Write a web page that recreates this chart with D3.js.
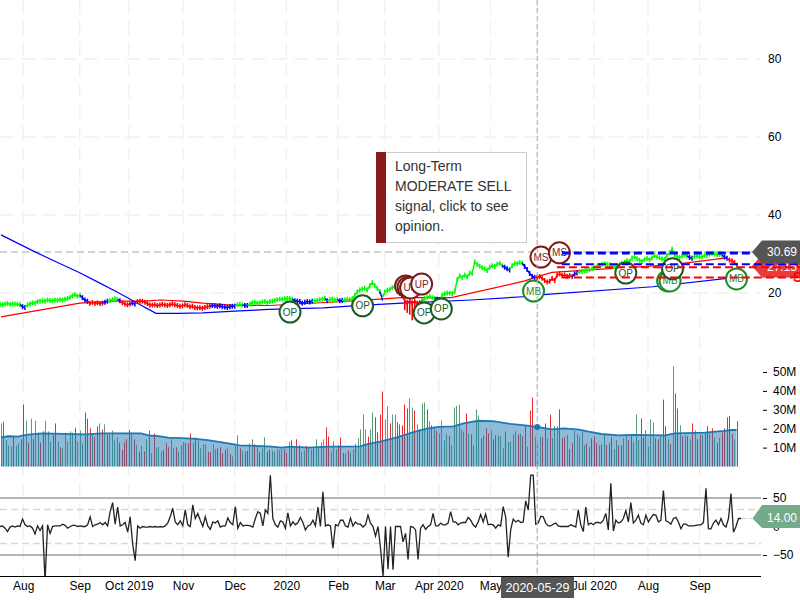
<!DOCTYPE html>
<html>
<head>
<meta charset="utf-8">
<script src="https://cdnjs.cloudflare.com/ajax/libs/d3/7.8.5/d3.min.js"></script>
<style>
	html, body { margin: 0; padding: 0; background: #fff; overflow: hidden; }
	text { font-family: Arial, "Liberation Sans", sans-serif; }
</style>
</head>
<body>
<div id="chart"></div>
<script>
//Month ticks, as bar numbers
var tickBars = [9, 32, 52, 74, 95, 116, 137, 156, 178, 199, 218, 241, 263, 284];
var tickLabels = ["Aug", "Sep", "Oct 2019", "Nov", "Dec", "2020", "Feb", "Mar", "Apr 2020", "May", "Jun", "Jul 2020", "Aug", "Sep"];

//Daily closes
var prices = [
	17.1, 17.0, 17.2, 17.3, 17.1, 17.2, 17.2, 17.1, 17.0, 16.5,
	16.3, 17.0, 17.2, 17.5, 17.4, 17.8, 17.9, 18.0, 17.9, 18.2,
	18.1, 18.0, 18.2, 18.1, 18.3, 18.2, 18.4, 18.6, 18.9, 19.3,
	19.6, 19.2, 19.4, 18.8, 18.2, 17.9, 17.4, 17.6, 17.3, 17.5,
	17.3, 17.4, 17.6, 17.9, 18.0, 18.3, 18.5, 18.3, 18.0, 17.5,
	17.2, 17.0, 17.2, 17.4, 17.2, 17.8, 17.9, 17.9, 17.6, 17.3,
	16.9, 16.9, 17.0, 16.8, 16.9, 17.1, 16.9, 16.8, 17.0, 17.2,
	17.0, 16.8, 16.6, 16.7, 17.0, 16.8, 16.5, 16.6, 16.3, 16.2,
	16.2, 16.1, 16.3, 16.5, 16.6, 16.8, 16.7, 16.6, 16.7, 16.5,
	16.4, 16.3, 16.5, 16.6, 16.6, 17.0, 17.1, 16.9, 16.8, 16.8,
	17.2, 17.5, 17.6, 17.4, 17.5, 17.7, 17.8, 17.5, 17.8, 17.9,
	18.1, 18.3, 18.4, 18.4, 18.5, 18.6, 18.6, 18.4, 18.0, 17.9,
	17.8, 17.4, 17.6, 17.8, 17.7, 17.9, 18.0, 18.1, 18.3, 18.4,
	18.6, 18.0, 18.3, 18.4, 18.2, 18.3, 18.0, 18.1, 18.2, 18.4,
	18.3, 18.5, 19.4, 20.3, 20.8, 21.0, 21.2, 20.8, 21.9, 22.6,
	21.9, 21.2, 20.4, 18.7, 20.2, 20.7, 20.9, 21.4, 21.7, 20.5,
	20.0, 19.3, 18.0, 17.6, 17.9, 17.5, 17.9, 17.4, 17.5, 17.9,
	18.6, 18.9, 19.1, 18.8, 18.6, 18.4, 18.3, 19.4, 19.8, 20.0,
	20.0, 19.9, 20.3, 23.4, 24.4, 24.0, 24.6, 24.1, 25.1, 25.0,
	28.0, 27.3, 26.9, 26.5, 26.2, 25.8, 26.6, 27.0, 26.8, 27.4,
	27.6, 27.0, 26.6, 26.2, 25.9, 27.0, 27.6, 27.5, 27.8, 27.7,
	26.8, 26.0, 25.0, 24.3, 24.0, 24.0, 24.2, 23.8, 23.2, 22.8,
	23.0, 23.7, 23.2, 24.6, 24.9, 24.5, 24.6, 24.3, 24.5, 24.2,
	24.9, 25.1, 25.5, 25.5, 25.7, 25.8, 26.0, 26.2, 26.5, 26.9,
	27.1, 27.3, 27.5, 27.4, 27.3, 27.0, 26.8, 27.0, 27.4, 27.6,
	27.9, 28.3, 28.1, 29.0, 29.3, 28.8, 28.4, 28.1, 28.6, 28.9,
	28.5, 29.0, 29.6, 29.2, 29.0, 28.7, 28.6, 29.6, 30.3, 31.2,
	29.8, 29.3, 29.1, 29.4, 29.8, 29.5, 29.1, 28.9, 29.4, 29.5,
	29.3, 29.2, 29.7, 29.6, 29.9, 30.2, 30.0, 29.8, 29.9, 29.7,
	29.2, 28.9, 28.4, 28.3, 27.8, 27.1
];
//Long lower wicks of the March sell-off
var wickDays = [162, 163, 164, 165, 166, 167, 168];
var wickLows = [15.6, 14.9, 14.4, 13.0, 15.0, 15.8, 16.4];

//Signal state of the price line: state, number of days
var signalStates = ["up","hold","up","hold","down","hold","up","hold","down","hold","down","hold","up","hold","up","hold","up","hold","up","hold","up","hold","up","hold","down","up","hold","up","hold","up","hold","down","hold","up","hold","up","hold","down"];
var signalDays = [9,2,22,3,6,2,4,1,4,2,30,10,3,2,18,8,5,1,4,2,15,1,5,3,8,5,2,25,3,5,5,15,2,44,2,12,2,4];

//Moving averages, read at a few bar numbers
var longMaBars = [0, 13, 23, 32, 40, 47, 54, 63, 72, 82, 97, 109, 131, 143, 163, 191, 214, 219, 265, 296];
var longMaValues = [34.9, 30.8, 27.8, 25.2, 22.6, 20.3, 17.9, 14.8, 14.8, 14.9, 15.4, 15.8, 16.2, 16.7, 17.4, 18.2, 19.1, 19.5, 21.6, 23.8];
var shortMaBars = [0, 32, 46, 58, 65, 74, 82, 94, 109, 130, 143, 163, 183, 213, 218, 224, 249, 272, 295];
var shortMaValues = [13.9, 17.4, 17.9, 17.9, 18.2, 17.9, 17.4, 16.9, 16.8, 17.5, 18.0, 18.8, 18.8, 23.1, 24.2, 25.3, 26.3, 27.2, 29.0];

//Signal bubbles
var signalLabels = ["OP", "OP", "UP", "UP", "UP", "UP", "OP", "OP", "MB", "MS", "MS", "OP", "MB", "MB", "OP", "MB"];
var signalBars = [117.5, 147, 164.5, 165.5, 166.5, 171, 172, 179, 216.5, 219.5, 227, 254, 271, 272, 273, 299];
var signalPrices = [15.1, 16.7, 21.8, 21.5, 21.3, 22.3, 14.9, 15.9, 20.5, 29.2, 30.3, 25.1, 23.1, 23.1, 26.2, 23.6];

//Support and resistance levels
var levelValues = [30.25, 27.4, 26.6, 24.0];
var levelStarts = [228, 228, 226, 228];
var levelColors = ["#0000ff", "#0000ff", "#ff0000", "#ff0000"];

//Volume in millions, colour of each bar (g or r)
var volumes = [
	22.8, 23.7, 14, 11, 10.5, 15.4, 11, 12.3, 14.4, 32.8,
	24.2, 12.6, 25.3, 14.4, 24.2, 18, 12.6, 18.6, 24.2, 18.6,
	13.2, 16.7, 22.8, 13.2, 10.2, 9.6, 17.9, 13.2, 18.6, 17.9,
	20.5, 13.2, 19, 12.3, 28.6, 25.3, 20.2, 17.5, 15.8, 21.2,
	22.8, 19.6, 22.3, 17, 16.8, 19, 13.9, 15.4, 12.6, 8.8,
	12.8, 14.4, 19.3, 18, 14.4, 11.4, 7.9, 10.9, 7.9, 14.4,
	19, 7, 17.5, 10.2, 10.2, 7.9, 8.6, 12.3, 10.2, 14.4,
	9.6, 10.2, 7.9, 11.2, 12.8, 12.5, 12.3, 17.5, 12.6, 15.4,
	13.7, 9.6, 11.8, 11.8, 7.9, 7.5, 11.8, 9.1, 9.6, 10.2,
	7, 8.8, 9.6, 6.5, 5.3, 10.9, 16.5, 9.6, 8.4, 7.9,
	8.4, 12.3, 14.4, 11.8, 10.9, 7.5, 9.6, 15.4, 7.9, 8.8,
	8.4, 7.9, 9.1, 8.8, 9.1, 9.1, 7, 13.2, 13.9, 9.6,
	14.4, 11.2, 7.9, 8.4, 10.9, 9.6, 9.1, 9.6, 14.4, 10.2,
	12.8, 14.4, 20.7, 15.8, 7.9, 13.3, 9.1, 11.2, 15.4, 7,
	7, 8.4, 7.4, 9, 11.8, 14.9, 19.6, 27.5, 19.6, 15.8,
	19.6, 28.6, 26, 18.1, 27.5, 39.6, 24.9, 31.8, 22.8, 27.5,
	27.5, 23.3, 22.3, 21.8, 32.8, 30.7, 36.1, 31.2, 29.6, 22.3,
	19.6, 33.3, 33.9, 30.2, 23.9, 21.8, 21, 18.9, 17.5, 24.4,
	13.9, 17.2, 16, 11.4, 31.2, 32.1, 32.8, 19.6, 18.4, 28.1,
	17.5, 17, 11.4, 30.2, 27, 14.9, 16.5, 20.2, 17.5, 19.1,
	14.4, 16.5, 16.5, 16, 9.6, 18.6, 12.8, 13.3, 17, 18.6,
	17, 17.5, 16, 21.8, 10.5, 29.6, 36.5,
	15.8, 14, 15.8, 15.4, 22.8, 14.9, 27.5, 14.9, 21.4, 21.4,
	30.2, 14.9, 15.4, 16.7, 9.1, 12.3, 18.8, 17.2, 15.8, 18.4,
	11.2, 12.3, 10.2, 14.9, 16.1, 12.3, 11.2, 11.6, 16.7, 11.2,
	12.3, 15.4, 9.1, 14, 11.2, 11.4, 14.9, 17, 14, 17.2,
	13, 27.5, 14, 25.4, 15.3, 19.3, 10.5, 24.9, 23.3, 14.9,
	14.4, 16.1, 35.4, 21.4, 14.4, 11.8, 53, 38.6, 30.7, 21.8,
	15.8, 16.7, 16, 14.4, 22.8, 19.1, 14.4, 16.7, 16.7, 17.5,
	21.4, 17.5, 20.2, 15.4, 12.3, 15.3, 17.9, 20.2, 26, 26.7,
	17.2, 14.4, 24
];
var volumeColors = [
	"grgggrggrr", "grgrggrrgg", "grrgrggggg", "rgggrrrgrr", "grgrggggrr",
	"rrrgrgrgrg", "rgrgggrrrg", "grgggrrrgr", "ggggrrggrr", "rrgrgggrgr",
	"rggrgrggrr", "gggggrrgrg", "rrggrggrgg", "ggrrgggrrr", "grggrggggr",
	"ggrrrrggrg", "grrrrrggrg", "rggrgrgrgg", "ggrggggggr", "grgggrgrrg",
	"rrgggrgggg", "rgrrgrr",
	"gggrrgrggg", "rrrgrrgggg", "grgrrrgrgr", "rrggrrggrr", "gggrrggggr",
	"rgrrgrgrrg", "rgrgrgrrgr", "rgrgrgrrrr", "rgr"
].join("");
//Average volume, read at a few bar numbers
var volumeMaBars = [0, 3, 7, 9, 12, 17, 34, 41, 57, 60, 64, 68, 78, 84, 88, 93, 97, 108, 110, 114, 118, 125, 133, 146, 149, 154, 161, 167, 173, 178, 184, 188, 194, 200, 207, 214, 218, 224, 229, 235, 239, 244, 251, 257, 270, 274, 286, 294, 297, 299];
var volumeMaValues = [15.4, 16, 15.8, 16.5, 17, 17.5, 17, 17.5, 17.5, 16.5, 16.1, 15.3, 14.7, 14, 13.2, 12.1, 11.2, 10.7, 10.5, 10, 10.5, 10, 10.5, 10.6, 11.8, 13.2, 15.4, 17.9, 20, 21, 21.2, 22.8, 24.2, 24, 22.5, 21.6, 20.9, 19.6, 20.2, 19.5, 18.4, 17.2, 16.5, 16.7, 16.5, 17.5, 17.9, 18.8, 19.3, 19.3];

//Oscillator in the lower panel
var oscillator = [
	0, 1, -3, -9, -1, 1, -1, 1, 0, 13, 3, 0, 1, -3, -13, 1, -7, 1, -95, 3, -12, 0, 1, 1, 1, 4, 2, -3, 0, 2,
	2, 0, 1, 0, 0, 3, 17, 0, 3, 4, 7, 3, 7, 1, 26, 42, 4, 34, 1, 3, 7, -10, 17, -31, -60, 1, -3, 0, -1, -1,
	0, -1, 0, -1, 0, -1, 1, 6, 17, 32, 8, 3, 10, 1, 29, 3, 0, 38, 14, 23, 11, 0, 17, 1, -5, 8, 6, 10, -1, 1,
	1, 15, 7, 3, 35, -3, 7, 1, 2, 2, 1, -1, 14, 26, 23, 1, 29, 23,
	90, 14, 3, -1, 10, 8, -3, 24, 1, 8, 3, 7, 16, 7, -6, 1, 3, 11, 1, 34, 0, 61, 1, 3, 1, -38, 3, 1, 11, 11,
	1, -1, 15, 1, 8, 4, 4, -1, 3, 20, 6, 0, -17, 0, -38, -87, 0, -75, 0, -76, 0, 0, 0, -27, -12, -58, 0, -1, -6, -58,
	-3, 3, -5, 0, 3, 23, 1, 1, 6, 3, 3, 6, 26, 8, 8, 3, 6, 7, 7, 16, 11, 3, -1, 8, 21, 8, 22, 3, 4, 3,
	-3, 3, 1, 35, 17, -54, -6, 13, 8, 11, 7, 8, 45, 29, 90, 90, 4,
	6, 18, 17, 6, 1, 1, 4, 6, 1, 0, 0, 0, 0, 3, 1, -1, 29, 3, -9, 34, 3, 6, 3, 7, 7, 6, 11, 23, -6, 76,
	-8, 11, 6, 8, 14, 28, 8, 42, 6, 11, 20, 6, 3, 20, 8, 15, 21, 20, 8, 11, 63, 10, 8, 4, 14, 16, 8, -4, 4, 4,
	1, 1, 1, 2, 3, 3, 7, 67, -4, -4, 6, 11, 3, 14, 3, -1, 14, 58, -10, 0, 14, 14
];
var oscillatorLevels = [50, -50];
var oscillatorBands = [30, -30];

//Last values shown in the right margin
var lastPrice = 30.69, lastTarget = 27.15, lastOscillator = 14.00;
var crossDate = "2020-05-29", crossBar = 218;
var noteLines = ["Long-Term", "MODERATE SELL", "signal, click to see", "opinion."];

var width = 800, height = 600, plotRight = 761;

var svg = d3.select("#chart").append("svg").attr("width", width).attr("height", height).style("display", "block");

var xBar = d3.scaleLinear().domain([0, volumes.length - 1]).range([1, 736.5]);
var xPrice = d3.scaleLinear().domain([0, prices.length - 1]).range([0, 737]);
var xOsc = d3.scaleLinear().domain([0, oscillator.length - 1]).range([0, 741]);
var yPrice = d3.scaleLinear().domain([20, 80]).range([293, 59]);
var yVol = d3.scaleLinear().domain([0, 50]).range([466.5, 372]);
var yOsc = d3.scaleLinear().domain([-100, 100]).range([583.5, 469.5]);

svg.append("defs").append("clipPath").attr("id", "oscClip")
	.append("rect").attr("x", 0).attr("y", 470).attr("width", plotRight).attr("height", 106);

//Grid
var grid = svg.append("g").attr("stroke", "#f1f1f1").attr("stroke-width", 1.5).attr("stroke-dasharray", "14,7");
grid.selectAll(".v").data(tickBars).enter().append("line")
	.attr("x1", function (d) { return xBar(d); })
	.attr("x2", function (d) { return xBar(d); })
	.attr("y1", 0).attr("y2", 576);
grid.selectAll(".h").data([20, 40, 60, 80]).enter().append("line")
	.attr("x1", 0).attr("x2", plotRight)
	.attr("y1", function (d) { return yPrice(d); })
	.attr("y2", function (d) { return yPrice(d); });

//Last price guide
svg.append("line").attr("x1", 0).attr("x2", 755)
	.attr("y1", yPrice(30.5)).attr("y2", yPrice(30.5))
	.attr("stroke", "#d4d4d4").attr("stroke-width", 2).attr("stroke-dasharray", "7,4");

//Moving averages
var maLine = function (bars, values) {
	return d3.line().x(function (d, i) { return xBar(bars[i]); }).y(function (d) { return yPrice(d); })(values);
};
svg.append("path").attr("d", maLine(longMaBars, longMaValues)).attr("fill", "none").attr("stroke", "#0000ff").attr("stroke-width", 1.2);
svg.append("path").attr("d", maLine(shortMaBars, shortMaValues)).attr("fill", "none").attr("stroke", "#ff0000").attr("stroke-width", 1.2);

//Price line, coloured by signal state
var stateColor = { up: "#00ff00", hold: "#0000ff", down: "#ff0000" };
var priceGroup = svg.append("g").attr("fill", "none");
var priceLine = d3.line().x(function (d) { return xPrice(d); }).y(function (d) { return yPrice(prices[d]); });
var start = 0;
signalStates.forEach(function (state, k) {
	var days = d3.range(start, start + signalDays[k]);
	var color = stateColor[state];
	priceGroup.append("path")
		.attr("d", priceLine(start > 0 ? [start - 1].concat(days) : days))
		.attr("stroke", color).attr("stroke-width", 1.5);
	priceGroup.selectAll(null).data(days).enter().append("line")
		.attr("x1", function (d) { return xPrice(d); })
		.attr("x2", function (d) { return xPrice(d); })
		.attr("y1", function (d) { return yPrice(prices[d]) - 2.5; })
		.attr("y2", function (d) { return yPrice(prices[d]) + 2.5; })
		.attr("stroke", color).attr("stroke-width", 1.5);
	start += signalDays[k];
});
priceGroup.selectAll(".wick").data(wickDays).enter().append("line")
	.attr("x1", function (d) { return xPrice(d); })
	.attr("x2", function (d) { return xPrice(d); })
	.attr("y1", function (d) { return yPrice(prices[d]); })
	.attr("y2", function (d, i) { return yPrice(wickLows[i]); })
	.attr("stroke", "#ff0000").attr("stroke-width", 1.6);

//Signal bubbles
var bubble = svg.append("g").selectAll("g").data(signalLabels).enter().append("g")
	.attr("transform", function (d, i) { return "translate(" + xBar(signalBars[i]) + "," + yPrice(signalPrices[i]) + ")"; });
var bubbleColor = function (d) {
	if (d === "OP") return "#1a5c26";
	if (d === "MB") return "#1d8a2b";
	return "#7f1a1a";
};
bubble.append("circle").attr("r", 10.5)
	.attr("fill", "#fff").attr("fill-opacity", 0.96)
	.attr("stroke", bubbleColor).attr("stroke-width", 2);
bubble.append("text").attr("text-anchor", "middle").attr("dy", "0.35em")
	.style("font-size", "10px").attr("fill", bubbleColor)
	.text(function (d) { return d; });

//Target box sits below the level lines
svg.append("path").attr("d", "M752,266L762,254.5H800V277.5H762Z").attr("fill", "#e83c3c");
svg.append("text").attr("x", 767).attr("y", 270.5).attr("fill", "#fff").style("font-size", "12px").text(lastTarget.toFixed(2));

//Support and resistance levels
svg.selectAll(".level").data(levelValues).enter().append("line")
	.attr("x1", function (d, i) { return xBar(levelStarts[i]); })
	.attr("x2", function (d, i) { return i === 0 ? 755 : width; })
	.attr("y1", function (d) { return yPrice(d); })
	.attr("y2", function (d) { return yPrice(d); })
	.attr("stroke", function (d, i) { return levelColors[i]; })
	.attr("stroke-width", function (d, i) { return i === 0 ? 3 : 2; })
	.attr("stroke-dasharray", "8,4");
svg.append("text").attr("x", 793).attr("y", 282).attr("fill", "#ff0000")
	.style("font-size", "14px").style("font-weight", "bold").text("S");

//Last price box
svg.append("path").attr("d", "M752,252L762,240.5H800V263.5H762Z").attr("fill", "#555555");
svg.append("text").attr("x", 767).attr("y", 256).attr("fill", "#fff").style("font-size", "12px").text(lastPrice.toFixed(2));

//Price axis
var priceAxis = svg.append("g").attr("transform", "translate(768,0)")
	.call(d3.axisRight(yPrice).tickValues([20, 40, 60, 80]).tickSize(0).tickPadding(0));

//Volume bars and their average
svg.selectAll(".volume").data(volumes).enter().append("line")
	.attr("x1", function (d, i) { return Math.round(xBar(i)) + 0.5; })
	.attr("x2", function (d, i) { return Math.round(xBar(i)) + 0.5; })
	.attr("y1", yVol(0))
	.attr("y2", function (d) { return yVol(d); })
	.attr("stroke", function (d, i) { return volumeColors[i] === "g" ? "#5a9e78" : "#ee2a2a"; });
var volumeArea = d3.area()
	.x(function (d, i) { return xBar(volumeMaBars[i]); })
	.y0(yVol(0))
	.y1(function (d) { return yVol(d); });
svg.append("path").attr("d", volumeArea(volumeMaValues)).attr("fill", "#1f77b4").attr("fill-opacity", 0.5);
svg.append("path")
	.attr("d", d3.line().x(function (d, i) { return xBar(volumeMaBars[i]); }).y(function (d) { return yVol(d); })(volumeMaValues))
	.attr("fill", "none").attr("stroke", "#1f77b4").attr("stroke-width", 1.8);
var volAxis = svg.append("g").attr("transform", "translate(767,0)")
	.call(d3.axisRight(yVol).tickValues([10, 20, 30, 40, 50]).tickSize(-4).tickPadding(6)
		.tickFormat(function (d) { return d + "M"; }));

//Oscillator panel
svg.selectAll(".oscLevel").data(oscillatorLevels).enter().append("line")
	.attr("x1", 0).attr("x2", plotRight)
	.attr("y1", function (d) { return yOsc(d); }).attr("y2", function (d) { return yOsc(d); })
	.attr("stroke", "#b5b5b5").attr("stroke-width", 2);
svg.selectAll(".oscBand").data(oscillatorBands).enter().append("line")
	.attr("x1", 0).attr("x2", plotRight)
	.attr("y1", function (d) { return yOsc(d); }).attr("y2", function (d) { return yOsc(d); })
	.attr("stroke", "#d8d8d8").attr("stroke-width", 1.5).attr("stroke-dasharray", "7,4");
svg.append("path")
	.attr("clip-path", "url(#oscClip)")
	.attr("d", d3.line().x(function (d, i) { return xOsc(i); }).y(function (d) { return yOsc(d); })(oscillator))
	.attr("fill", "none").attr("stroke", "#222").attr("stroke-width", 1.3);
var oscAxis = svg.append("g").attr("transform", "translate(767,0)")
	.call(d3.axisRight(yOsc).tickValues([-50, 0, 50]).tickSize(-4).tickPadding(6));
svg.append("line").attr("x1", xOsc(oscillator.length - 1)).attr("x2", 752)
	.attr("y1", yOsc(lastOscillator)).attr("y2", yOsc(lastOscillator))
	.attr("stroke", "#cfcfcf").attr("stroke-dasharray", "5,3");
svg.append("path").attr("d", "M752.5,518.5L762,505H800V528H762Z").attr("fill", "#74a98a");
svg.append("text").attr("x", 767).attr("y", 521.5).attr("fill", "#fff").style("font-size", "12px").text(lastOscillator.toFixed(2));

//Time axis
var timeAxis = svg.append("g").attr("transform", "translate(0,576)")
	.call(d3.axisBottom(xBar).tickValues(tickBars).tickSize(0).tickPadding(5)
		.tickFormat(function (d, i) { return tickLabels[i]; }));
svg.append("line").attr("x1", 0).attr("x2", plotRight).attr("y1", 576.5).attr("y2", 576.5).attr("stroke", "#000");

[priceAxis, volAxis, oscAxis, timeAxis].forEach(function (a) {
	a.select(".domain").remove();
	a.selectAll("text").style("font-size", "12px").attr("fill", "#000")
		.style("font-family", "Arial, 'Liberation Sans', sans-serif");
});

//Crosshair
svg.append("line").attr("x1", xBar(crossBar)).attr("x2", xBar(crossBar)).attr("y1", 0).attr("y2", 576)
	.attr("stroke", "#aaaaaa").attr("stroke-dasharray", "5,3");
svg.append("circle").attr("cx", xBar(crossBar)).attr("cy", yVol(20.9)).attr("r", 3).attr("fill", "#1f77b4");
svg.append("rect").attr("x", 501).attr("y", 577).attr("width", 73).attr("height", 21).attr("fill", "#555555");
svg.append("text").attr("x", 537.5).attr("y", 592).attr("text-anchor", "middle").attr("fill", "#fff")
	.style("font-size", "12.5px").text(crossDate);

//Signal note
svg.append("rect").attr("x", 376.5).attr("y", 152.5).attr("width", 150).attr("height", 90)
	.attr("fill", "#fff").attr("stroke", "#cccccc");
svg.append("rect").attr("x", 376).attr("y", 152).attr("width", 10).attr("height", 91).attr("fill", "#8b1a1a");
svg.selectAll(".note").data(noteLines).enter().append("text")
	.attr("x", 395)
	.attr("y", function (d, i) { return 171 + i * 20; })
	.attr("fill", "#333333")
	.style("font-size", "14px")
	.text(function (d) { return d; });
</script>
</body>
</html>
